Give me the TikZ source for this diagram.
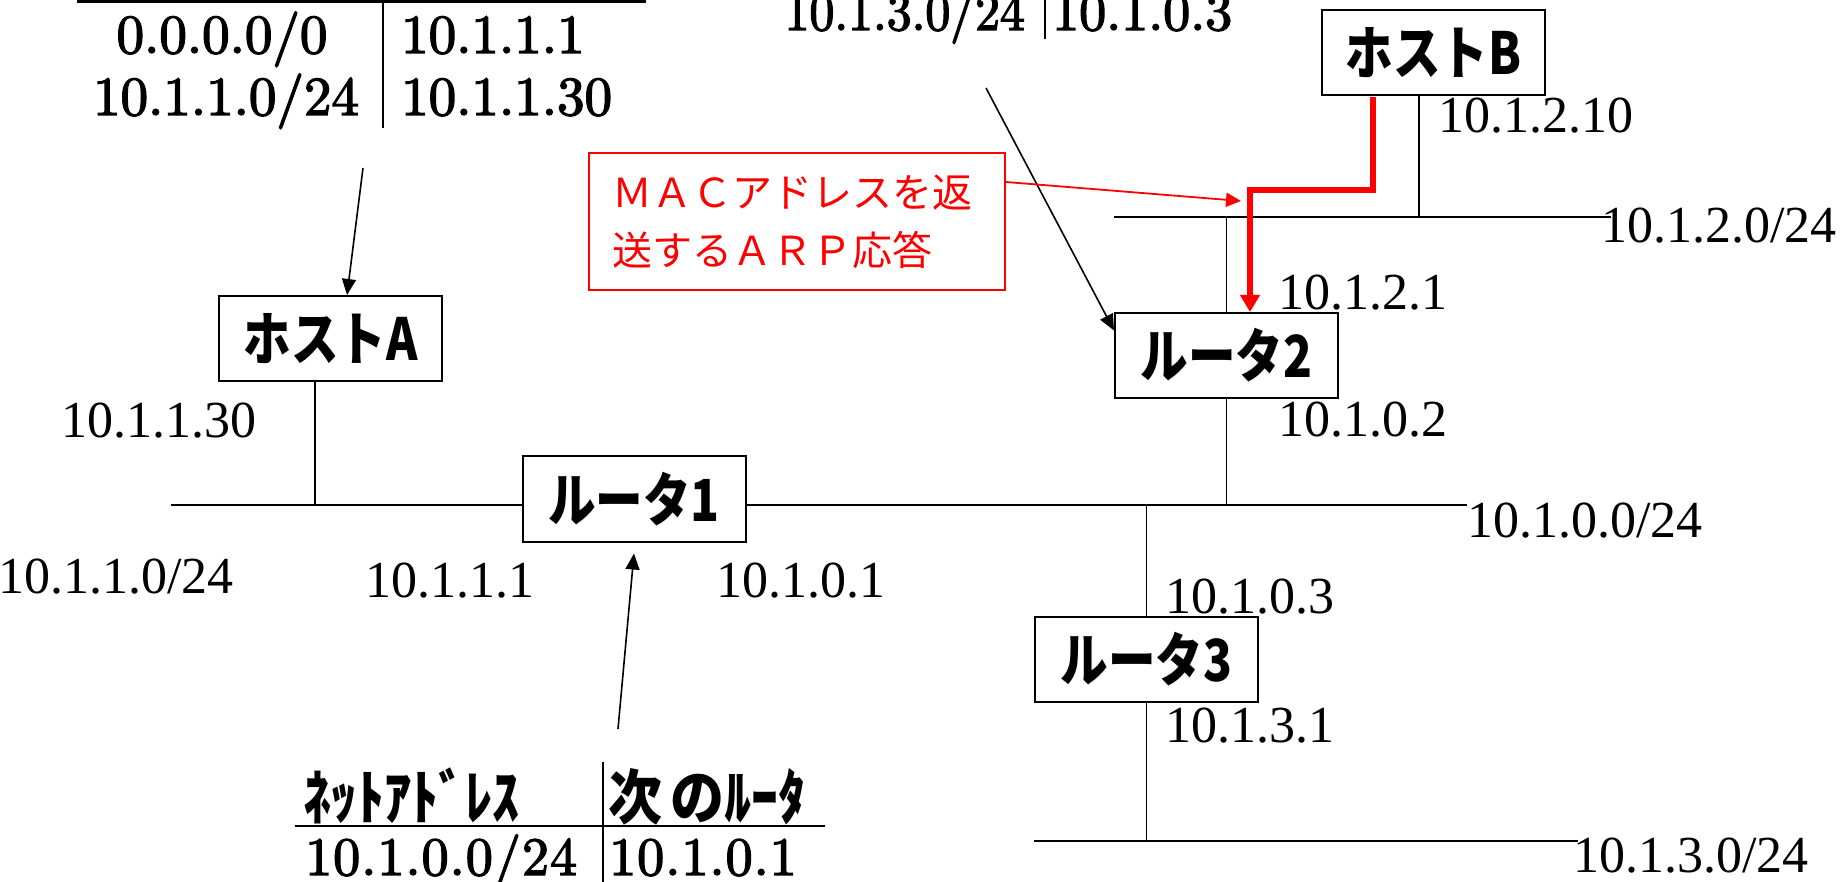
\documentclass[tikz,border=0pt]{standalone}
\usepackage{fontspec}
\setmainfont{Liberation Serif}
\newfontfamily\jp{Noto Sans CJK JP}
\newfontfamily\jpc{Noto Sans CJK JP}[FakeStretch=0.82]
\newfontfamily\jph{Noto Sans CJK JP}[FakeStretch=0.9]
\newfontfamily\lmn{lmroman10-regular.otf}[FakeBold=2.5]
\newfontfamily\lmc{lmroman10-regular.otf}[FakeBold=2.5,FakeStretch=0.92]
\newfontfamily\lmw{lmroman10-regular.otf}[FakeBold=2.5,LetterSpace=2]
\usetikzlibrary{arrows.meta,backgrounds}
\tikzset{
  box/.style={draw, line width=2pt, fill=white, minimum width=223pt, minimum height=85pt,
    inner sep=0pt, font=\jpc\bfseries\fontsize{58}{60}\selectfont},
  lbl/.style={anchor=base west, inner sep=0pt, font=\fontsize{52}{60}\selectfont},
  tbl/.style={inner sep=0pt, font=\lmn\fontsize{55}{60}\selectfont},
  tblm/.style={inner sep=0pt, font=\lmn\fontsize{54}{60}\selectfont},
  tblc/.style={inner sep=0pt, font=\lmc\fontsize{54}{60}\selectfont},
  tblw/.style={inner sep=0pt, anchor=base west, font=\lmw\fontsize{54}{60}\selectfont},
  hdr/.style={inner sep=0pt, anchor=base west, font=\jph\bfseries\fontsize{60}{60}\selectfont},
  bus/.style={line width=2.5pt},
  tap/.style={line width=1.8pt},
  rule/.style={line width=2.5pt},
  ptr/.style={line width=1.6pt, -{Triangle[length=16pt,width=14pt]}},
  redbox/.style={draw=red, text=red, line width=1.8pt, minimum width=416pt, minimum height=137pt,
    inner xsep=23pt, inner ysep=0pt, text width=370pt, align=left,
    font=\jp\fontsize{40}{58}\selectfont},
  redthick/.style={draw=red, line width=6pt, -{Triangle[length=17pt,width=19pt]}},
  redthin/.style={draw=red, line width=1.8pt, -{Triangle[length=15pt,width=14pt]}},
}
\begin{document}
\begin{tikzpicture}[x=1pt, y=-1pt]
\useasboundingbox (0,0) rectangle (1848,882);

% boxes
\node[box] (hostA) at (330.5,338.5) {ホストA};
\node[box] (hostB) at (1433.5,53) {ホストB};
\node[box] (r1) at (634,499) {ルータ1};
\node[box] (r2) at (1226.5,355.5) {ルータ2};
\node[box] (r3) at (1146.5,659) {ルータ3};

\node[redbox] (msg) at (797,221.5) {ＭＡＣアドレスを返\\送するＡＲＰ応答};

% coordinates
\coordinate (b1L) at (171,505);
\coordinate (b0R) at (1467,505);
\coordinate (b2L) at (1114,217);
\coordinate (b2R) at (1611,217);
\coordinate (b3L) at (1034,841);
\coordinate (b3R) at (1578,841);
\coordinate (tA) at (315,505);
\coordinate (tB) at (1419,217);
\coordinate (t2u) at (1226.5,217);
\coordinate (t2d) at (1226.5,505);
\coordinate (t3u) at (1146.5,505);
\coordinate (t3d) at (1146.5,841);
\coordinate (rs) at (1373,97);
\coordinate (rj) at (1250,190);
\coordinate (rt) at (1241,201);
\coordinate (pA) at (363,168);
\coordinate (p1) at (618,729);
\coordinate (p2) at (986,88);

\begin{pgfonlayer}{background}
\draw[bus] (b1L) -- (b1L -| r1.west);
\draw[bus] (b0R -| r1.east) -- (b0R);
\draw[bus] (b2L) -- (b2R);
\draw[bus] (b3L) -- (b3R);
\draw[tap] (hostA.south -| tA) -- (tA);
\draw[tap] (hostB.south -| tB) -- (tB);
\draw[tap] (t2u) -- (r2.north);
\draw[tap] (r2.south) -- (t2d);
\draw[tap] (t3u) -- (r3.north);
\draw[tap] (r3.south) -- (t3d);
\end{pgfonlayer}

% arrows
\draw[ptr] (pA) -- ([xshift=16.5pt]hostA.north);
\draw[ptr] (p1) -- ([yshift=-11pt]r1.south);
\draw[ptr] (p2) -- ([yshift=25pt]r2.west);
\draw[redthick] (rs) |- (rj) -- (rj |- r2.north);
\draw[redthin] ([yshift=39.5pt]msg.east) -- (rt);

% address labels
\node[lbl] (lA) at (61,438) {10.1.1.30};
\node[lbl] (n1) at (-2,593) {10.1.1.0/24};
\node[lbl] (r1a) at (365,597) {10.1.1.1};
\node[lbl] (r1b) at (716,597) {10.1.0.1};
\node[lbl] (n0) at (1467,537) {10.1.0.0/24};
\node[lbl] (r3a) at (1165,613) {10.1.0.3};
\node[lbl] (r3b) at (1165,742) {10.1.3.1};
\node[lbl] (n3) at (1573,872) {10.1.3.0/24};
\node[lbl] (r2a) at (1278,437) {10.1.0.2};
\node[lbl] (r2b) at (1278,310) {10.1.2.1};
\node[lbl] (n2) at (1601,243) {10.1.2.0/24};
\node[lbl] (lB) at (1438,133) {10.1.2.10};

% routing table of host A (top left)
\draw[line width=3pt] (77,1.5) -- (646,1.5);
\draw[tap] (383,0) -- (383,128);
\node[tbl, anchor=base] (ta1) at (222,53) {0.0.0.0/0};
\node[tbl, anchor=base] (ta2) at (226,115) {10.1.1.0/24};
\node[tbl, anchor=base west] (ta3) at (401,53) {10.1.1.1};
\node[tbl, anchor=base west] (ta4) at (401,115) {10.1.1.30};

% routing table of router 2 (top middle)
\draw[tap] (1045,0) -- (1045,39);
\node[tblc, anchor=base east] (tm1) at (1025,30) {10.1.3.0/24};
\node[tblm, anchor=base west] (tm2) at (1052,30) {10.1.0.3};

% routing table of router 1 (bottom)
\node[hdr] (th1) at (303,819) {ﾈｯﾄｱﾄﾞﾚｽ};
\node[hdr] (th2) at (608,819) {次\hspace{8pt}のﾙｰﾀ};
\draw[rule] (295,826) -- (825,826);
\draw[tap] (603,762) -- (603,882);
\node[tblw] (tb1) at (305,875) {10.1.0.0/24};
\node[tblw] (tb2) at (609,875) {10.1.0.1};
\end{tikzpicture}
\end{document}
